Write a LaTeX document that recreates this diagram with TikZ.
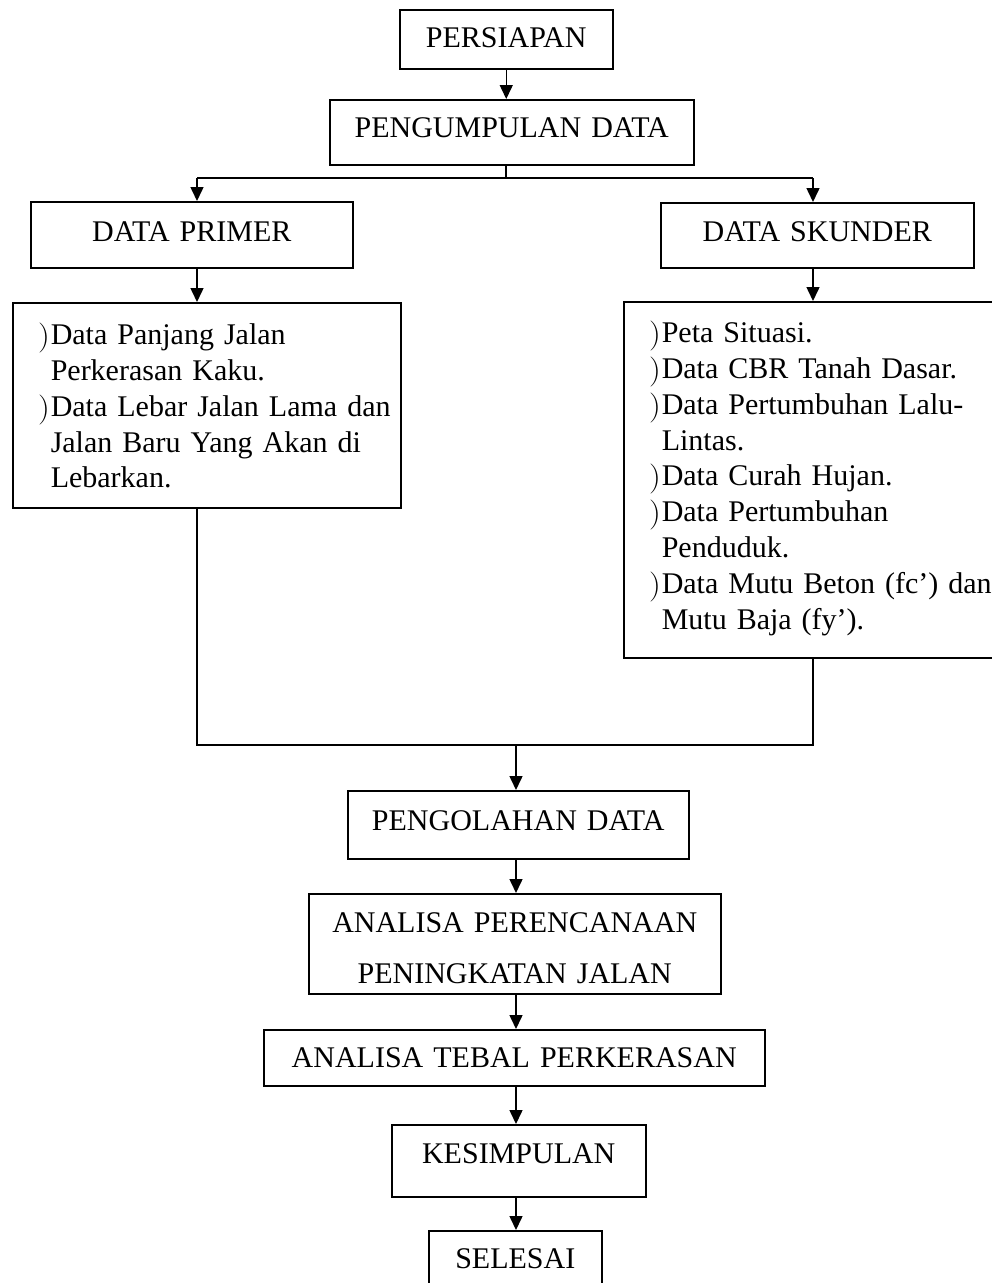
\documentclass[tikz,border=0pt]{standalone}
\usepackage{fontspec}
\usepackage{graphicx}
\setmainfont{Liberation Serif}
\newfontfamily\lmfont{Latin Modern Roman}
\usetikzlibrary{arrows.meta}
\newcommand{\blt}{\hspace*{21pt}\makebox[17pt][r]{\raisebox{-1pt}{\scalebox{1.1}[1.0]{\lmfont )}}\hspace{1pt}}}
\newcommand{\ind}{\hspace*{38pt}}
\begin{document}
\begin{tikzpicture}[x=1pt,y=-1pt,
  box/.style={draw, line width=1.5pt, inner sep=0pt, anchor=north west, align=center,
    font=\fontsize{30}{36}\selectfont},
  listbox/.style={box, align=left, font=\fontsize{30}{35.8}\selectfont},
  conn/.style={line width=1.5pt},
  arr/.style={conn, -{Triangle[width=13pt,length=14pt]}}]
\useasboundingbox (0,0) rectangle (992,1283);

% boxes
\node[box, text width=213pt, text height=38pt, text depth=21pt] (persiapan) at (399,9) {PERSIAPAN};
\node[box, text width=364pt, text height=38pt, text depth=27pt] (pengumpulan) at (329,99) {PENGUMPULAN DATA};
\node[box, text width=322pt, text height=40pt, text depth=26pt] (primer) at (30,201) {DATA PRIMER};
\node[box, text width=313pt, text height=39pt, text depth=26pt] (skunder) at (660,202) {DATA SKUNDER};
\node[listbox, text width=388pt, text height=42pt, text depth=163pt] (primerlist) at (12,302)
  {\blt Data Panjang Jalan\\
   \ind Perkerasan Kaku.\\
   \blt Data Lebar Jalan Lama dan\\
   \ind Jalan Baru Yang Akan di\\
   \ind Lebarkan.};
\node[listbox, text width=390pt, text height=41pt, text depth=315pt] (skunderlist) at (623,301)
  {\blt Peta Situasi.\\
   \blt Data CBR Tanah Dasar.\\
   \blt Data Pertumbuhan Lalu-\\
   \ind Lintas.\\
   \blt Data Curah Hujan.\\
   \blt Data Pertumbuhan\\
   \ind Penduduk.\\
   \blt Data Mutu Beton (fc’) dan\\
   \ind Mutu Baja (fy’).};
\node[box, text width=341pt, text height=40pt, text depth=28pt] (pengolahan) at (347,790) {PENGOLAHAN DATA};
\node[box, text width=412pt, text height=39pt, text depth=61pt, font=\fontsize{30}{51}\selectfont] (analisa) at (308,893)
  {ANALISA PERENCANAAN\\ PENINGKATAN JALAN};
\node[box, text width=501pt, text height=38pt, text depth=18pt] (tebal) at (263,1029) {ANALISA TEBAL PERKERASAN};
\node[box, text width=254pt, text height=39pt, text depth=33pt] (kesimpulan) at (391,1124) {KESIMPULAN};
\node[box, text width=173pt, text height=38pt, text depth=40pt] (selesai) at (428,1230) {SELESAI};

% helper coordinates
\coordinate (split) at (506,178);
\coordinate (splitL) at (197,178);
\coordinate (splitR) at (813,178);
\coordinate (joinL) at (197,745);
\coordinate (joinR) at (813,745);
\coordinate (joinM) at (516,745);

% connectors
\draw[arr] (persiapan.south) -- (persiapan.south |- pengumpulan.north);
\draw[conn] (split |- pengumpulan.south) -- (split);
\draw[conn] (splitL) -- (splitR);
\draw[arr] (splitL) -- (splitL |- primer.north);
\draw[arr] (splitR) -- (splitR |- skunder.north);
\draw[arr] (splitL |- primer.south) -- (splitL |- primerlist.north);
\draw[arr] (splitR |- skunder.south) -- (splitR |- skunderlist.north);
\draw[conn] (splitL |- primerlist.south) -- (joinL) -- (joinR) -- (splitR |- skunderlist.south);
\draw[arr] (joinM) -- (joinM |- pengolahan.north);
\draw[arr] (joinM |- pengolahan.south) -- (joinM |- analisa.north);
\draw[arr] (joinM |- analisa.south) -- (joinM |- tebal.north);
\draw[arr] (joinM |- tebal.south) -- (joinM |- kesimpulan.north);
\draw[arr] (joinM |- kesimpulan.south) -- (joinM |- selesai.north);
\end{tikzpicture}
\end{document}
